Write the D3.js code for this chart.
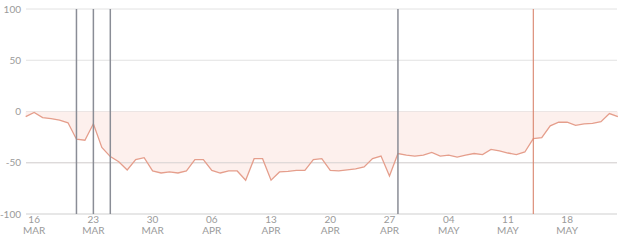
<!DOCTYPE html>
<html lang="en">
<head>
<meta charset="utf-8">
<title>Mobility change</title>
<script src="https://d3js.org/d3.v7.min.js"></script>
<style>
  body { margin: 0; background: #fff; }
  svg text { font-family: "Lato", "Open Sans", sans-serif; }
</style>
</head>
<body>
<svg width="622" height="244"></svg>
<script>
// data: daily % change, 15 Mar -> 24 May 2020
const startDay = "2020-03-15"
const endDay = "2020-05-24"
const values = [
  -5, -1, -6, -7, -8.5, -11, -27, -28, -12, -35, -44, -49, -57, -47, -45, -58, -60,
  -59, -60, -58, -47, -47, -57.5, -60, -58, -58, -67, -46, -46, -67, -59, -58.5, -57.5,
  -57.5, -47, -46, -57.5, -58, -57, -56, -54, -46, -43.5, -63, -41, -42.5, -43.5,
  -42.5, -40, -43.5, -42.5, -44.5, -42.5, -41, -42, -37, -38.5, -40.5, -42, -39.5,
  -26.5, -25.5, -14, -10.5, -10.5, -13.5, -12, -11.5, -10, -2, -5
]
const yTicks = [-100, -50, 0, 50, 100]
const greyEvents = ["2020-03-21", "2020-03-23", "2020-03-25", "2020-04-28"]
const orangeEvents = ["2020-05-14"]

const parse = d3.timeParse("%Y-%m-%d")
const days = d3.timeDay.range(parse(startDay), d3.timeDay.offset(parse(endDay), 1))
const data = days.map((d, i) => ({ date: d, value: values[i] }))

const svg = d3.select("svg")
const x = d3.scaleTime().domain([parse(startDay), parse(endDay)]).range([25.7, 617.9])
const y = d3.scaleLinear().domain([-100, 100]).range([214, 9])

// gridlines
svg.append("g")
  .selectAll("line")
  .data(yTicks)
  .join("line")
  .attr("x1", 26).attr("x2", 617)
  .attr("y1", d => y(d)).attr("y2", d => y(d))
  .attr("stroke", d => d === -100 ? "#cfcfcf" : "#e2e2e2")
  .attr("stroke-width", 1)

// area between 0 and line
svg.append("path")
  .datum(data)
  .attr("fill", "#fcebe7")
  .attr("fill-opacity", 0.75)
  .attr("d", d3.area().x(d => x(d.date)).y0(y(0)).y1(d => y(d.value)))

// redraw -50 line over the area
svg.append("line")
  .attr("x1", 26).attr("x2", 617)
  .attr("y1", y(-50)).attr("y2", y(-50))
  .attr("stroke", "#d9d4d4").attr("stroke-width", 1)

svg.append("path")
  .datum(data)
  .attr("fill", "none")
  .attr("stroke", "#e59e8c")
  .attr("stroke-width", 1.3)
  .attr("d", d3.line().x(d => x(d.date)).y(d => y(d.value)))

// event lines
svg.append("g")
  .selectAll("line")
  .data(greyEvents.map(parse))
  .join("line")
  .attr("x1", d => x(d)).attr("x2", d => x(d))
  .attr("y1", y(100)).attr("y2", y(-100))
  .attr("stroke", "#8a8d96").attr("stroke-width", 1.5)

svg.append("g")
  .selectAll("line")
  .data(orangeEvents.map(parse))
  .join("line")
  .attr("x1", d => x(d)).attr("x2", d => x(d))
  .attr("y1", y(100)).attr("y2", y(-100))
  .attr("stroke", "#d9836c").attr("stroke-width", 1.1)

// y labels
svg.append("g")
  .selectAll("text")
  .data(yTicks)
  .join("text")
  .attr("x", 21)
  .attr("y", d => y(d) + 3.5)
  .attr("text-anchor", "end")
  .attr("font-size", 10)
  .attr("fill", "#9a9a9a")
  .text(d => d)

// x labels
const xTicks = d3.timeMonday.range(parse(startDay), d3.timeDay.offset(parse(endDay), 1))
const fmtDay = d3.timeFormat("%d")
const fmtMon = d3.timeFormat("%b")
const xl = svg.append("g")
  .selectAll("text")
  .data(xTicks)
  .join("text")
  .attr("text-anchor", "middle")
  .attr("font-size", 10)
  .attr("fill", "#9a9a9a")
xl.append("tspan").attr("x", d => x(d)).attr("y", 223).text(d => fmtDay(d))
xl.append("tspan").attr("x", d => x(d)).attr("y", 234).text(d => fmtMon(d).toUpperCase())
</script>
</body>
</html>
